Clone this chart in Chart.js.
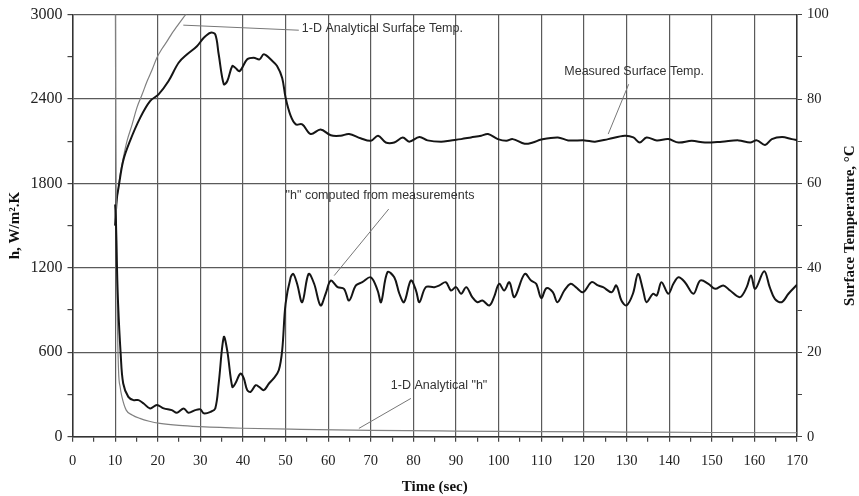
<!DOCTYPE html>
<html>
<head>
<meta charset="utf-8">
<script src="https://cdn.jsdelivr.net/npm/chart.js@4"></script>
<style>
  html, body { margin: 0; padding: 0; background: #fff; }
  #wrap { width: 859px; height: 496px; }
</style>
</head>
<body>
<div id="wrap"><canvas id="myChart" width="859" height="496"></canvas></div>
<script>
// "h" computed from measurements (W/m2.K)
const hTime = [10, 10.2, 10.4, 10.7, 11.3, 11.9, 13.1, 14.3, 15.5, 16.7, 18.2, 19.8, 21.4, 23.3, 24.5, 26.1, 27.2, 28.8, 30, 30.8,
  32.4, 33.5, 34.3, 35.5, 36.3, 37.5, 38.2, 39.4, 40.2, 41.0, 41.8, 43.0, 43.8, 44.9, 46.1, 47.2, 48.4, 49.2, 50, 51.2,
  51.8, 52.7, 53.9, 55.4, 56.7, 58.2, 59.4, 60.6, 62.2, 63.7, 64.9, 66.5, 68.0, 70, 71.6, 72.4, 73.9, 75.5, 76.7, 77.8,
  79.4, 80.6, 81.4, 82.9, 84.9, 86.1, 87.6, 88.8, 90, 91.2, 92.4, 93.8, 95, 96.2, 97.8, 98.9, 100.1, 101.3, 102.5, 103.7,
  106.1, 107.6, 108.8, 110, 111.2, 112.7, 113.8, 115.4, 116.9, 118.1, 119.8, 121.8, 123.3, 124.5, 126.5, 127.6, 128.8, 130, 131.5, 132.7,
  133.9, 134.7, 136.2, 137.1, 138.2, 139.8, 141.0, 142.2, 143.7, 145.7, 147.3, 149.2, 150.8, 152.7, 154.3, 156.6, 158.2, 159.2, 160.2, 162.3,
  163.6, 164.8, 166.4, 168, 170];
const hMeasured = [1650, 1530, 1250, 945, 591, 378, 283, 260, 260, 236, 201, 225, 201, 189, 170, 201, 170, 189, 194, 166,
  177, 201, 378, 708, 614, 354, 378, 449, 414, 331, 319, 366, 354, 331, 378, 414, 472, 614, 945, 1133,
  1157, 1087, 956, 1157, 1087, 933, 1016, 1110, 1063, 1051, 968, 1075, 1098, 1133, 1039, 956, 1169, 1133, 1016, 956,
  1110, 1039, 956, 1063, 1063, 1075, 1098, 1039, 1063, 1016, 1063, 992, 956, 968, 933, 992, 1087, 1039, 1098, 992,
  1157, 1110, 1087, 985, 1055, 1027, 956, 1039, 1087, 1063, 1027, 1098, 1075, 1063, 1027, 1075, 968, 933, 1016, 1157,
  1039, 956, 1016, 1004, 1098, 1016, 1087, 1133, 1098, 1016, 1110, 1087, 1051, 1075, 1039, 992, 1063, 1146, 1051, 1176,
  1063, 980, 956, 1016, 1080];

// 1-D analytical "h"
const hAnTime = [10.05, 10.15, 10.3, 10.5, 10.8, 11.2, 11.6, 12.6, 14, 15.8, 18, 20.5, 25, 30, 40, 53.5, 70, 90, 110, 130, 150, 170];
const hAnalytical = [3200, 2200, 1500, 900, 472, 350, 283, 189, 155, 130, 110, 95, 80, 71, 60, 52, 45, 40, 36, 33, 30, 28];

// measured surface temperature (deg C)
const tTime = [10, 10.4, 10.8, 11.9, 13.5, 15.9, 18.2, 20.2, 22.5, 24.9, 26.9, 29.2, 30.8, 32.4, 33.5, 34.3, 35.5, 36.3, 37.5, 38.2,
  39.2, 41.0, 42.5, 43.9, 44.9, 46.9, 48.0, 49.2, 50.0, 51.2, 52.4, 53.9, 55.9, 58.2, 60.6, 62.9, 64.9, 67.6, 70, 71.7,
  73.5, 75.5, 77.5, 79.0, 81.4, 83.3, 86.5, 88.8, 91.2, 93.5, 95.9, 97.5, 99.8, 101.8, 103.3, 106.1, 108.0, 110, 113.9, 116.3,
  120.2, 122.6, 125.7, 129.6, 131.6, 133.1, 134.7, 137.1, 139.8, 142.2, 145.3, 148.4, 152.4, 156.3, 159.0, 160.6, 162.5, 164.1, 166.5, 168.8,
  170];
const tMeasured = [50, 56.4, 59, 65.4, 70.1, 75.6, 79.5, 81.1, 84.2, 88.6, 90.6, 92.5, 94.5, 95.7, 95.3, 90.6, 83.5, 84.2, 87.8, 87.4,
  86.6, 89.4, 89.8, 89.4, 90.6, 89.0, 87.8, 85.0, 80.3, 76.0, 74.0, 74.0, 71.7, 72.8, 71.4, 71.3, 71.7, 70.7, 70.1, 71.3,
  69.7, 69.7, 70.9, 69.9, 71.0, 70.2, 69.9, 70.2, 70.5, 70.9, 71.3, 71.7, 70.5, 70.1, 70.5, 69.4, 69.7, 70.4, 70.9, 70.2,
  70.2, 69.9, 70.5, 71.3, 70.9, 69.7, 70.9, 70.2, 70.5, 69.7, 70.1, 69.7, 69.9, 70.2, 69.7, 70.2, 69.1, 70.5, 71.0, 70.5,
  70.3];

// 1-D analytical surface temperature
const tAnTime = [10, 10.3, 10.7, 11.2, 12, 12.8, 14, 15.1, 16.3, 17.5, 18.7, 19.8, 21, 22.2, 23.3, 24.5, 25.8, 27.2];
const tAnalytical = [50, 55, 58.5, 62.2, 66.5, 70.1, 74, 77.9, 81, 84.2, 87, 89.8, 91.9, 93.7, 95.5, 97.2, 99, 100.8];

const noteLabels = ['1-D Analytical Surface Temp.', 'Measured Surface Temp.', '"h" computed from measurements', '1-D Analytical "h"'];

// where each note sits and where its leader line runs (data units)
const notes = [
  { axis: 'yT', x: 53.8, y: 96.8, line: [26.0, 97.5, 53.1, 96.3] },
  { axis: 'yT', x: 115.4, y: 86.4, line: [125.7, 71.7, 130.5, 83.5] },
  { axis: 'yH', x: 50.0, y: 1712, line: [74.2, 1618, 61.4, 1145] },
  { axis: 'yH', x: 74.7, y: 366, line: [79.4, 272, 67.2, 59] }
];

function toPoints(xs, ys) {
  return xs.map(function(x, i) { return { x: x, y: ys[i] }; });
}

const serif = '"Liberation Serif", "Times New Roman", serif';
const gridCol = '#5a5a5a';

const notesPlugin = {
  id: 'notes',
  afterDatasetsDraw(chart) {
    const ctx = chart.ctx;
    const xs = chart.scales.x;
    ctx.save();
    notes.forEach(function(n, i) {
      const ys = chart.scales[n.axis];
      ctx.strokeStyle = '#777';
      ctx.lineWidth = 1;
      ctx.beginPath();
      ctx.moveTo(xs.getPixelForValue(n.line[0]), ys.getPixelForValue(n.line[1]));
      ctx.lineTo(xs.getPixelForValue(n.line[2]), ys.getPixelForValue(n.line[3]));
      ctx.stroke();
      ctx.fillStyle = '#333';
      ctx.font = '12.5px "Liberation Sans", Arial, sans-serif';
      ctx.textAlign = 'left';
      ctx.textBaseline = 'middle';
      ctx.fillText(noteLabels[i], xs.getPixelForValue(n.x), ys.getPixelForValue(n.y));
    });
    ctx.restore();
  },
  afterDraw(chart) {
    // right axis title reads bottom-to-top
    const ctx = chart.ctx;
    const a = chart.chartArea;
    ctx.save();
    ctx.translate(850, (a.top + a.bottom) / 2);
    ctx.rotate(-Math.PI / 2);
    ctx.fillStyle = '#111';
    ctx.font = 'bold 15px ' + serif;
    ctx.textAlign = 'center';
    ctx.textBaseline = 'middle';
    ctx.fillText('Surface Temperature, \u00B0C', 0, 0);
    ctx.restore();
  }
};

const config = {
  type: 'line',
  data: {
    datasets: [
      { label: 'h measured', data: toPoints(hTime, hMeasured), yAxisID: 'yH', borderColor: '#151515', borderWidth: 2, pointRadius: 0, tension: 0.35 },
      { label: 'h analytical', data: toPoints(hAnTime, hAnalytical), yAxisID: 'yH', borderColor: '#808080', borderWidth: 1.2, pointRadius: 0, cubicInterpolationMode: 'monotone' },
      { label: 'T measured', data: toPoints(tTime, tMeasured), yAxisID: 'yT', borderColor: '#151515', borderWidth: 2, pointRadius: 0, tension: 0.35 },
      { label: 'T analytical', data: toPoints(tAnTime, tAnalytical), yAxisID: 'yT', borderColor: '#808080', borderWidth: 1.2, pointRadius: 0, cubicInterpolationMode: 'monotone' }
    ]
  },
  options: {
    responsive: false,
    animation: false,
    events: [],
    layout: { padding: { top: 13.3, left: 0, right: 0, bottom: 0 } },
    plugins: { legend: { display: false }, tooltip: { enabled: false } },
    scales: {
      x: {
        type: 'linear', min: 0, max: 170,
        afterFit: function(s) { s.height = 59.3; },
        border: { color: '#333', width: 1.5 },
        grid: {
          color: function(c) { return c.tick && c.tick.value % 10 === 0 ? gridCol : 'rgba(0,0,0,0)'; },
          tickColor: '#444', tickLength: 5, lineWidth: 1.2
        },
        ticks: {
          stepSize: 5, autoSkip: false, maxRotation: 0, padding: 11, color: '#222',
          font: { family: serif, size: 14.5 },
          callback: function(v) { return v % 10 === 0 ? v : ''; }
        },
        title: { display: true, text: 'Time (sec)', color: '#111', font: { family: serif, size: 15, weight: 'bold' }, padding: { top: 0, bottom: 0 } }
      },
      yH: {
        type: 'linear', position: 'left', min: 0, max: 3000,
        afterFit: function(s) { s.width = 72.5; },
        border: { color: '#333', width: 1.5 },
        grid: {
          color: function(c) { return c.tick && c.tick.value % 600 === 0 ? gridCol : 'rgba(0,0,0,0)'; },
          tickColor: '#444', tickLength: 5, lineWidth: 1.2
        },
        ticks: {
          stepSize: 300, autoSkip: false, padding: 5, color: '#222',
          font: { family: serif, size: 16 },
          callback: function(v) { return v % 600 === 0 ? v : ''; }
        },
        title: { display: true, text: 'h, W/m\u00B2.K', color: '#111', font: { family: serif, size: 15, weight: 'bold' }, padding: { top: 6, bottom: 0 } }
      },
      yT: {
        type: 'linear', position: 'right', min: 0, max: 100,
        afterFit: function(s) { s.width = 62; },
        border: { color: '#333', width: 1.5 },
        grid: { drawOnChartArea: false, tickColor: '#444', tickLength: 5 },
        ticks: {
          stepSize: 10, autoSkip: false, padding: 5, color: '#222',
          font: { family: serif, size: 14.5 },
          callback: function(v) { return v % 20 === 0 ? v : ''; }
        }
      }
    }
  },
  plugins: [notesPlugin]
};

const myChart = new Chart(document.getElementById('myChart'), config);
</script>
</body>
</html>
